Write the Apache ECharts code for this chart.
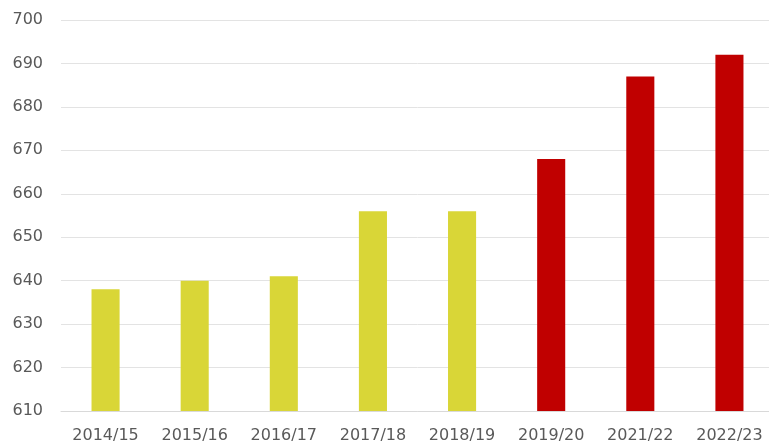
<!DOCTYPE html>
<html>
	<head>
		<meta charset="utf-8">
		<style>
			html,body{
				margin:0;
				height:100%;
				background:#fff;
				overflow:hidden;
			}
			#container{
				width:774px;
				height:447px;
			}
		</style>
	</head>
	<body>
		<div id="container"></div>
	<script src="https://cdn.jsdelivr.net/npm/echarts@6/dist/echarts.min.js"></script>
	<script>
        var years = ['2014/15', '2015/16', '2016/17', '2017/18', '2018/19', '2019/20', '2021/22', '2022/23'];
        var values = [638, 640, 641, 656, 656, 668, 687, 692];
        var barColors = ['#d9d637', '#d9d637', '#d9d637', '#d9d637', '#d9d637', '#c00000', '#c00000', '#c00000'];
        var yMin = 610, yMax = 700, yStep = 10;

        var myChart = echarts.init(document.getElementById('container'));
        var option = {
            backgroundColor: '#fff',
            animation: false,
            grid: {
                left: 61,
                right: 0,
                top: 20,
                bottom: 36,
                containLabel: false
            },
            xAxis: {
                type: 'category',
                data: years,
                axisTick: { show: false },
                axisLine: { lineStyle: { color: '#d9d9d9', width: 1 } },
                axisLabel: {
                    color: '#595959',
                    fontFamily: 'DejaVu Sans',
                    fontSize: 16,
                    margin: 17,
                    interval: 0
                }
            },
            yAxis: {
                type: 'value',
                min: yMin,
                max: yMax,
                interval: yStep,
                axisLine: { show: false },
                axisTick: { show: false },
                splitLine: { lineStyle: { color: '#e3e3e3', width: 1 } },
                axisLabel: {
                    color: '#595959',
                    fontFamily: 'DejaVu Sans',
                    fontSize: 16,
                    margin: 18
                }
            },
            series: [{
                type: 'bar',
                barWidth: '31.5%',
                data: values.map(function (v, i) {
                    return { value: v, itemStyle: { color: barColors[i] } };
                })
            }]
        };
        myChart.setOption(option, true);
	</script>
	</body>
</html>
